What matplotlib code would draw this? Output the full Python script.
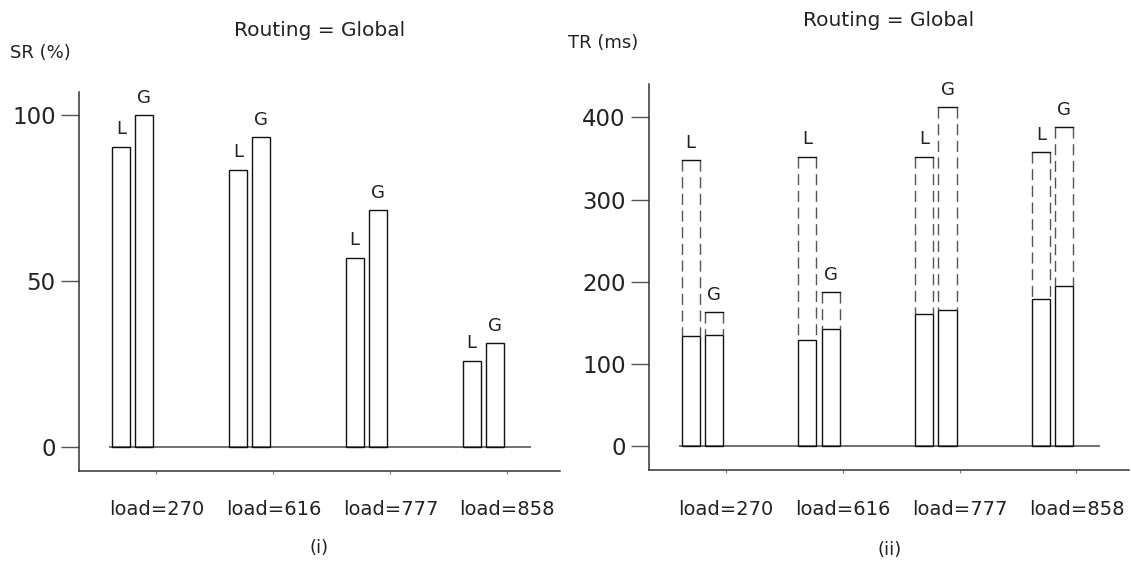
import numpy as np
import matplotlib
matplotlib.use("Agg")
import matplotlib.pyplot as plt

plt.rcParams['font.family'] = ['DejaVu Sans']

loads = ["load=270", "load=616", "load=777", "load=858"]

# (i) success rate
sr_local = [90.5, 83.5, 57, 26]
sr_global = [100, 93.4, 71.4, 31.4]

# (ii) response time: solid part and dashed upper bound
tr_local = [134, 129, 161, 179]
tr_local_max = [348, 352, 352, 358]
tr_global = [135, 143, 165, 195]
tr_global_max = [163, 187, 412, 388]

x = np.arange(len(loads))
bw = 0.156
off = 0.1
tick_shift = 0.205
txt = '#222222'

fig = plt.figure(figsize=(11.31, 5.67), dpi=100)
ax1 = fig.add_axes([0.0701, 0.1698, 0.425, 0.6678])
ax2 = fig.add_axes([0.574, 0.1702, 0.4242, 0.682])


def style(ax, yticks, ylim):
    ax.set_xlim(-0.455, 3.655)
    ax.set_ylim(*ylim)
    for s in ['top', 'right']:
        ax.spines[s].set_visible(False)
    for s in ['left', 'bottom']:
        ax.spines[s].set_color('#333333')
        ax.spines[s].set_linewidth(1.1)
    ax.set_yticks(yticks)
    ax.tick_params(axis='y', length=13, width=1.0, color='#555555', pad=4,
                   labelsize=16.5, labelcolor=txt)
    ax.set_xticks(x + tick_shift)
    ax.set_xticklabels(loads)
    ax.tick_params(axis='x', length=2, width=0.8, color='#777777', pad=19,
                   labelsize=14, labelcolor=txt)
    ax.hlines(0, x[0] - 0.2, x[-1] + 0.41, color='#666666', lw=1.3, zorder=1)


def label_bars(ax, bars, tops, s):
    for b, t in zip(bars, tops):
        ax.annotate(s, (b.get_x() + b.get_width() / 2, t), xytext=(0, 6),
                    textcoords='offset points', ha='center', va='bottom',
                    fontsize=13, color=txt)


# left panel
style(ax1, [0, 50, 100], (-7.1, 106.9))
bl = ax1.bar(x - off, sr_local, bw, fill=False, edgecolor='#111111', lw=1.0, zorder=2)
bg = ax1.bar(x + off, sr_global, bw, fill=False, edgecolor='#111111', lw=1.0, zorder=2)
label_bars(ax1, bl, sr_local, 'L')
label_bars(ax1, bg, sr_global, 'G')

# right panel
style(ax2, [0, 100, 200, 300, 400], (-29.7, 440.8))
bl2 = ax2.bar(x - off, tr_local, bw, fill=False, edgecolor='#111111', lw=1.0, zorder=2)
bg2 = ax2.bar(x + off, tr_global, bw, fill=False, edgecolor='#111111', lw=1.0, zorder=2)
for bars, lo, hi in [(bl2, tr_local, tr_local_max), (bg2, tr_global, tr_global_max)]:
    for b, y0, y1 in zip(bars, lo, hi):
        xl, xr = b.get_x(), b.get_x() + b.get_width()
        ax2.plot([xl, xl], [y1, y0], color='#555555', lw=1.0, ls=(0, (8, 4)))
        ax2.plot([xr, xr], [y1, y0], color='#555555', lw=1.0, ls=(0, (8, 4)))
        ax2.plot([xl, xr], [y1, y1], color='#111111', lw=1.0)
label_bars(ax2, bl2, tr_local_max, 'L')
label_bars(ax2, bg2, tr_global_max, 'G')

# titles and captions
fig.text(319.6 / 1131, 1 - 30 / 567, 'Routing = Global', ha='center', va='center',
         fontsize=14.5, color=txt)
fig.text(889 / 1131, 1 - 20 / 567, 'Routing = Global', ha='center', va='center',
         fontsize=14.5, color=txt)
fig.text(10 / 1131, 1 - 53 / 567, 'SR (%)', ha='left', va='center', fontsize=13, color=txt)
fig.text(568 / 1131, 1 - 43 / 567, 'TR (ms)', ha='left', va='center', fontsize=13, color=txt)
fig.text(319 / 1131, 1 - 548 / 567, '(i)', ha='center', va='center', fontsize=13, color=txt)
fig.text(889.6 / 1131, 1 - 550 / 567, '(ii)', ha='center', va='center', fontsize=13, color=txt)

fig.savefig('out.png', dpi=100)
